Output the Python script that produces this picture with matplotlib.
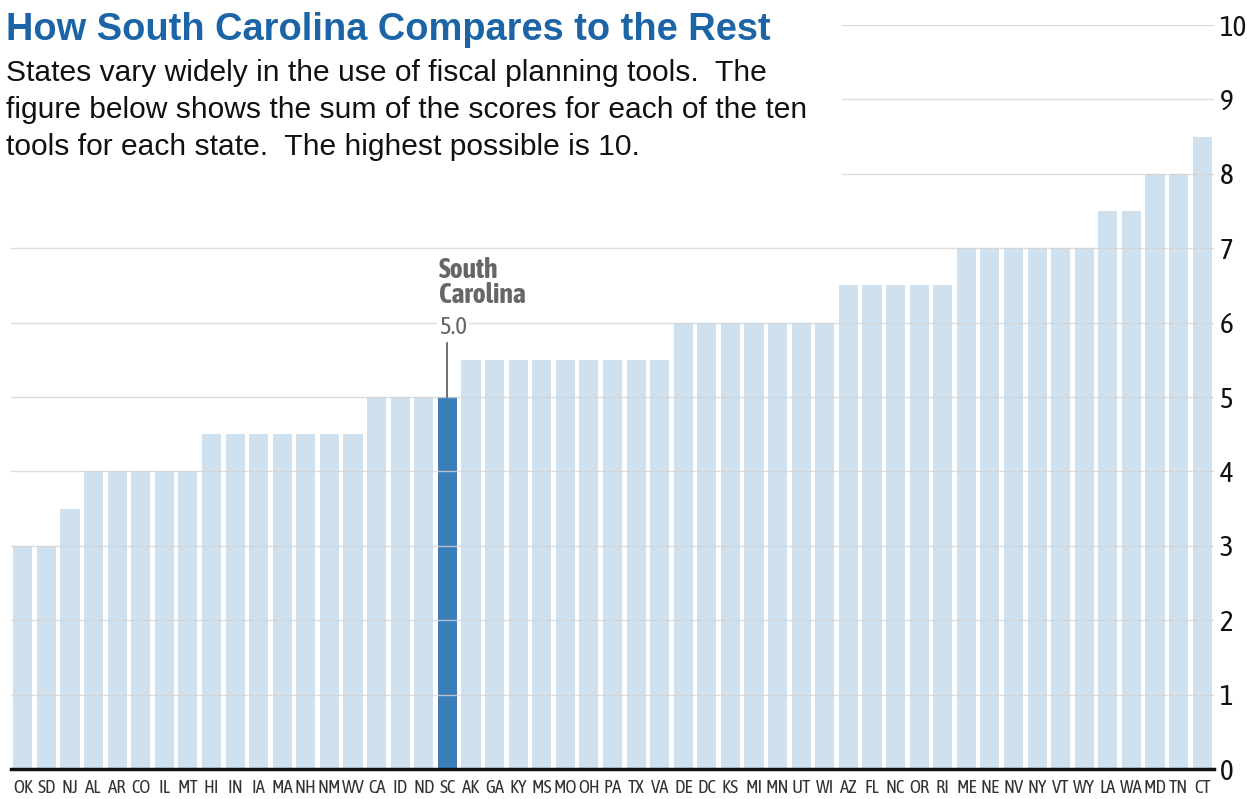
import matplotlib
matplotlib.use('Agg')
import matplotlib.pyplot as plt
from matplotlib.patches import Rectangle

# state codes and total scores (out of 10)
states = ['OK', 'SD', 'NJ', 'AL', 'AR', 'CO', 'IL', 'MT', 'HI', 'IN', 'IA', 'MA', 'NH',
          'NM', 'WV', 'CA', 'ID', 'ND', 'SC', 'AK', 'GA', 'KY', 'MS', 'MO', 'OH', 'PA',
          'TX', 'VA', 'DE', 'DC', 'KS', 'MI', 'MN', 'UT', 'WI', 'AZ', 'FL', 'NC', 'OR',
          'RI', 'ME', 'NE', 'NV', 'NY', 'VT', 'WY', 'LA', 'WA', 'MD', 'TN', 'CT']
scores = [3, 3, 3.5, 4, 4, 4, 4, 4, 4.5, 4.5, 4.5, 4.5, 4.5,
          4.5, 4.5, 5, 5, 5, 5, 5.5, 5.5, 5.5, 5.5, 5.5, 5.5, 5.5,
          5.5, 5.5, 6, 6, 6, 6, 6, 6, 6, 6.5, 6.5, 6.5, 6.5,
          6.5, 7, 7, 7, 7, 7, 7, 7.5, 7.5, 8, 8, 8.5]
y_ticks = [0, 1, 2, 3, 4, 5, 6, 7, 8, 9, 10]
highlight = 'SC'

title = 'How South Carolina Compares to the Rest'
subtitle = ['States vary widely in the use of fiscal planning tools.  The',
            'figure below shows the sum of the scores for each of the ten',
            'tools for each state.  The highest possible is 10.']

narrow = ['Asap Condensed', 'PT Sans Narrow', 'Barlow Semi Condensed', 'DejaVu Sans']
body = ['Liberation Sans', 'DejaVu Sans']

W, H = 1247, 799
fig = plt.figure(figsize=(W / 100, H / 100), dpi=100)
ax = fig.add_axes([11 / W, 1 - 769 / H, (1214 - 11) / W, (769 - 25) / H])

x = list(range(len(states)))
colors = ['#3b7db8' if s == highlight else '#cfe0ee' for s in states]
ax.bar(x, scores, width=0.81, color=colors, zorder=2)

ax.set_xlim(-0.5, len(states) - 0.5)
ax.set_ylim(0, 10)
ax.set_yticks(y_ticks)
ax.yaxis.tick_right()
ax.tick_params(axis='y', length=0, pad=4, labelsize=21, labelcolor='#111111')
for lab in ax.get_yticklabels():
    lab.set_fontfamily(narrow)
ax.set_xticks(x)
ax.set_xticklabels(states, fontsize=13.5, fontfamily=narrow, color='#333333')
ax.tick_params(axis='x', length=0, pad=7)

for sp in ['top', 'right', 'left']:
    ax.spines[sp].set_visible(False)
ax.spines['bottom'].set_linewidth(2.5)
ax.spines['bottom'].set_color('#111111')
ax.spines['bottom'].set_zorder(4)

for t in y_ticks[1:]:
    ax.axhline(t, color='#d4d4d4', lw=1, zorder=3, alpha=0.8)

# annotation for South Carolina
i = states.index(highlight)
v = scores[i]
ax.plot([i, i], [v, v + 0.72], color='#555555', lw=1.2, zorder=4)
ax.text(i - 0.35, v + 0.78, '5.0', fontsize=18, fontfamily=narrow, color='#666666',
        va='bottom', ha='left', zorder=5,
        bbox=dict(facecolor='white', edgecolor='none', pad=1.5))
ax.text(i - 0.35, v + 1.18, 'South\nCarolina', fontsize=20, fontweight='bold',
        fontfamily=narrow, color='#666666', va='bottom', ha='left', linespacing=0.9,
        zorder=5)

# white block behind header so gridlines stop before the text
fig.add_artist(Rectangle((0, 1 - 185 / H), 842 / W, 185 / H, transform=fig.transFigure,
                         facecolor='white', edgecolor='none', zorder=1))

fig.text(6 / W, 1 - 40 / H, title, fontsize=27.4, fontweight='bold', color='#1b64a6',
         fontfamily=body, va='baseline', ha='left', zorder=2)
for k, line in enumerate(subtitle):
    fig.text(6 / W, 1 - (81 + 37 * k) / H, line, fontsize=21.6, color='#111111',
             fontfamily=body, va='baseline', ha='left', zorder=2)

fig.savefig('out.png', dpi=100)
